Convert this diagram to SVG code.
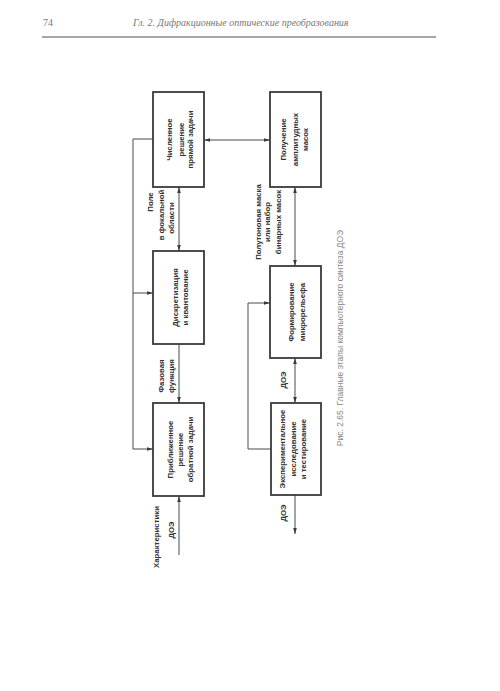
<svg xmlns="http://www.w3.org/2000/svg" width="500" height="691" viewBox="0 0 500 691">
<style>
.box{fill:#fff;stroke:#3a3a3a;stroke-width:1.8}
.ln{fill:none;stroke:#4a4a4a;stroke-width:1}
.t{font-family:"Liberation Sans",Arial,sans-serif;font-size:7.8px;font-weight:bold;fill:#333;text-anchor:middle;dominant-baseline:central}
.hd{font-family:"Liberation Serif","Times New Roman",serif;font-size:10px;fill:#777}
.cap{font-family:"Liberation Sans",Arial,sans-serif;font-size:8.5px;fill:#888;text-anchor:middle;dominant-baseline:central}
</style>
<defs>
<marker id="ah" viewBox="0 0 10 6" refX="10" refY="3" markerWidth="6" markerHeight="4" orient="auto-start-reverse" markerUnits="userSpaceOnUse">
<path d="M0,0 L10,3 L0,6 z" fill="#3a3a3a"/>
</marker>
</defs>
<rect width="500" height="691" fill="#fff"/>
<g id="header">
<text class="hd" x="43" y="26">74</text>
<text class="hd" x="133" y="26" font-style="italic">Гл. 2. Дифракционные оптические преобразования</text>
<line x1="42" y1="37" x2="436" y2="37" stroke="#888" stroke-width="1.3"/>
</g>
<g id="connectors">
<line class="ln" x1="204" y1="140" x2="270" y2="140" marker-start="url(#ah)" marker-end="url(#ah)"/>
<polyline class="ln" points="153,139 133,139 133,449"/>
<line class="ln" x1="133" y1="293" x2="153" y2="293" marker-end="url(#ah)"/>
<line class="ln" x1="133" y1="449" x2="153" y2="449" marker-end="url(#ah)"/>
<line class="ln" x1="179" y1="187" x2="179" y2="251" marker-start="url(#ah)" marker-end="url(#ah)"/>
<line class="ln" x1="179" y1="344" x2="179" y2="403" marker-end="url(#ah)"/>
<line class="ln" x1="179" y1="555" x2="179" y2="496" marker-end="url(#ah)"/>
<line class="ln" x1="295" y1="187" x2="295" y2="266" marker-start="url(#ah)" marker-end="url(#ah)"/>
<line class="ln" x1="295" y1="358" x2="295" y2="403" marker-start="url(#ah)" marker-end="url(#ah)"/>
<line class="ln" x1="295" y1="495" x2="295" y2="534" marker-end="url(#ah)"/>
<polyline class="ln" points="271,449 248,449 248,303 270,303" marker-end="url(#ah)"/>
</g>
<g id="labels">
<text class="t" transform="translate(150,202) rotate(-90)">Поле</text>
<text class="t" transform="translate(161.5,215) rotate(-90)">в фокальной</text>
<text class="t" transform="translate(171.5,218) rotate(-90)">области</text>
<text class="t" transform="translate(161,376) rotate(-90)">Фазовая</text>
<text class="t" transform="translate(171.5,376) rotate(-90)">функция</text>
<text class="t" transform="translate(156,537) rotate(-90)">Характеристики</text>
<text class="t" transform="translate(171,530) rotate(-90)">ДОЭ</text>
<text class="t" transform="translate(258.5,222) rotate(-90)">Полутоновая маска</text>
<text class="t" transform="translate(267.5,222) rotate(-90)">или набор</text>
<text class="t" transform="translate(278,222) rotate(-90)">бинарных масок</text>
<text class="t" transform="translate(283,380) rotate(-90)">ДОЭ</text>
<text class="t" transform="translate(283,513) rotate(-90)">ДОЭ</text>
</g>
<g id="nodeA">
<rect class="box" x="153" y="92" width="51" height="95"/>
<text class="t" transform="translate(169.5,139.5) rotate(-90)">Численное</text>
<text class="t" transform="translate(181,139.5) rotate(-90)">решение</text>
<text class="t" transform="translate(190.5,139.5) rotate(-90)">прямой задачи</text>
</g>
<g id="nodeB">
<rect class="box" x="270" y="92" width="51" height="95"/>
<text class="t" transform="translate(283,139.5) rotate(-90)">Получение</text>
<text class="t" transform="translate(295.5,139.5) rotate(-90)">амплитудных</text>
<text class="t" transform="translate(305.5,139.5) rotate(-90)">масок</text>
</g>
<g id="nodeC">
<rect class="box" x="153" y="251" width="51" height="93"/>
<text class="t" transform="translate(175.5,297.5) rotate(-90)">Дискретизация</text>
<text class="t" transform="translate(185.5,297.5) rotate(-90)">и квантование</text>
</g>
<g id="nodeD">
<rect class="box" x="270" y="266" width="51" height="92"/>
<text class="t" transform="translate(291.5,312) rotate(-90)">Формирование</text>
<text class="t" transform="translate(302,312) rotate(-90)">микрорельефа</text>
</g>
<g id="nodeE">
<rect class="box" x="153" y="403" width="51" height="93"/>
<text class="t" transform="translate(170,449.5) rotate(-90)">Приближенное</text>
<text class="t" transform="translate(180.5,449.5) rotate(-90)">решение</text>
<text class="t" transform="translate(190.5,449.5) rotate(-90)">обратной задачи</text>
</g>
<g id="nodeF">
<rect class="box" x="271" y="403" width="50" height="92"/>
<text class="t" transform="translate(282.5,449) rotate(-90)">Экспериментальное</text>
<text class="t" transform="translate(293.5,449) rotate(-90)">исследование</text>
<text class="t" transform="translate(303,449) rotate(-90)">и тестирование</text>
</g>
<g id="caption">
<text class="cap" transform="translate(340,338) rotate(-90)">Рис. 2.65. Главные этапы компьютерного синтеза ДОЭ</text>
</g>
</svg>
